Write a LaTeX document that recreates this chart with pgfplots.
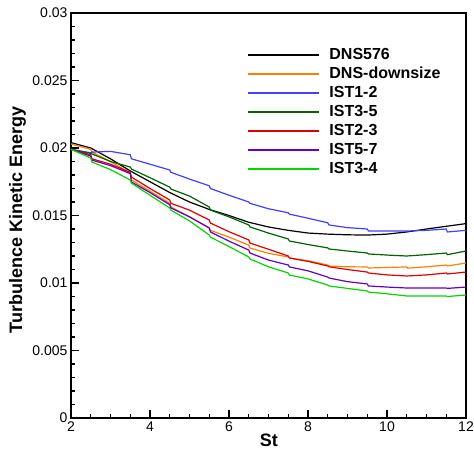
\documentclass[border=0pt]{standalone}
\usepackage{fontspec}
\setmainfont{Liberation Sans}
\usepackage{pgfplots}
\pgfplotsset{compat=1.18}
\definecolor{cOrange}{RGB}{255,128,0}
\definecolor{cBlue}{RGB}{64,64,255}
\definecolor{cDGreen}{RGB}{0,100,0}
\definecolor{cRed}{RGB}{225,0,0}
\definecolor{cPurple}{RGB}{100,0,200}
\definecolor{cGreen}{RGB}{0,215,0}
\begin{document}
\begin{tikzpicture}
\useasboundingbox (-71pt,-32pt) rectangle (403pt,418pt);
\begin{axis}[
  scale only axis, width=395pt, height=405pt,
  xmin=2, xmax=12, ymin=0, ymax=0.03,
  xtick={2,4,...,12}, ytick={0,0.005,...,0.03},
  minor x tick num=3, minor y tick num=4,
  xtick pos=left, ytick pos=left,
  tick align=inside,
  major tick length=8pt, minor tick length=4pt,
  every tick/.style={black, line width=1.2pt},
  axis line style={line width=2pt},
  /pgf/number format/assume math mode=true,
  scaled y ticks=false,
  yticklabel style={/pgf/number format/fixed, /pgf/number format/precision=3, font=\fontsize{14}{16}\selectfont},
  xticklabel style={font=\fontsize{14}{16}\selectfont},
  xlabel={\textbf{St}}, ylabel={\textbf{Turbulence Kinetic Energy}},
  xlabel style={font=\fontsize{18}{20}\selectfont, at={(axis description cs:0.501,-0.054)}, anchor=center},
  ylabel style={font=\fontsize{18}{20}\selectfont, at={(axis description cs:-0.1354,0.489)}, anchor=center},
  legend style={draw=none, fill=none, at={(axis description cs:0.438,0.925)}, anchor=north west,
    font=\bfseries\fontsize{16}{19}\selectfont, row sep=0pt,
    nodes={inner ysep=2pt, text height=12pt, text depth=3pt},
    /tikz/every odd column/.append style={column sep=8pt}},
  legend cell align=left,
  legend image code/.code={\draw[#1] (0pt,0pt) -- (71pt,0pt);},
  every axis plot/.append style={line width=1.2pt},
]
% DNS576
\addplot[black] coordinates {(2,0.0204) (2.5,0.0200) (3,0.0192) (3.5,0.0183) (4,0.0175) (4.5,0.0167) (5,0.0160) (5.5,0.01545) (6,0.0150) (6.5,0.0145) (7,0.01415) (7.5,0.0139) (8,0.0137) (8.5,0.01362) (9,0.01357) (9.5,0.01355) (10,0.01362) (10.5,0.01378) (11,0.0140) (11.5,0.0142) (12,0.0144)};
% DNS-downsize
\addplot[cOrange] coordinates {(2,0.0203) (2.5,0.0199) (2.53,0.0197) (3,0.0190) (3.5,0.01815) (3.53,0.01763) (4,0.0168) (4.5,0.0159) (4.53,0.01563) (5,0.0149) (5.5,0.0141) (5.53,0.0139) (6,0.0134) (6.5,0.01281) (6.53,0.01259) (7,0.0122) (7.5,0.01193) (7.53,0.01185) (8,0.01165) (8.5,0.01133) (8.53,0.01126) (9,0.0112) (9.5,0.01119) (9.53,0.01111) (10,0.01115) (10.5,0.01119) (10.53,0.0111) (11,0.0112) (11.5,0.01133) (11.53,0.01126) (12,0.01148)};
% IST1-2
\addplot[cBlue] coordinates {(2,0.0199) (2.5,0.01965) (2.53,0.0197) (3,0.01975) (3.5,0.0195) (3.53,0.0192) (4,0.0188) (4.5,0.01837) (4.53,0.0182) (5,0.0177) (5.5,0.0172) (5.53,0.0170) (6,0.0165) (6.5,0.0160) (6.53,0.0159) (7,0.0155) (7.5,0.0152) (7.53,0.0151) (8,0.0148) (8.5,0.01446) (8.53,0.0143) (9,0.0141) (9.5,0.0140) (9.53,0.01385) (10,0.01385) (10.5,0.01385) (11,0.0139) (11.5,0.0140) (11.53,0.01378) (12,0.0139)};
% IST3-5
\addplot[cDGreen] coordinates {(2,0.0199) (2.5,0.0196) (3,0.0190) (3.5,0.01859) (3.53,0.01844) (4,0.0178) (4.5,0.0171) (4.53,0.01696) (5,0.01644) (5.5,0.01563) (5.53,0.0154) (6,0.0149) (6.5,0.0143) (6.53,0.01415) (7,0.0137) (7.5,0.01326) (7.53,0.01311) (8,0.01285) (8.5,0.0126) (8.53,0.01252) (9,0.01237) (9.5,0.01222) (9.53,0.01215) (10,0.01207) (10.5,0.0120) (11,0.0121) (11.5,0.01222) (11.53,0.0121) (12,0.01237)};
% IST2-3
\addplot[cRed] coordinates {(2,0.0199) (2.5,0.0195) (2.53,0.0192) (3,0.0188) (3.5,0.0182) (3.53,0.01785) (4,0.0170) (4.5,0.01615) (4.53,0.0159) (5,0.0154) (5.5,0.01467) (5.53,0.01444) (6,0.0138) (6.5,0.01319) (6.53,0.01296) (7,0.0125) (7.5,0.0120) (7.53,0.01185) (8,0.0116) (8.5,0.01126) (8.53,0.0112) (9,0.0110) (9.5,0.01081) (9.53,0.01074) (10,0.0106) (10.5,0.01052) (11,0.0106) (11.5,0.01074) (11.53,0.01067) (12,0.01081)};
% IST5-7
\addplot[cPurple] coordinates {(2,0.0199) (2.5,0.0194) (2.53,0.0191) (3,0.0187) (3.5,0.0181) (3.53,0.01748) (4,0.0167) (4.5,0.0158) (4.53,0.01556) (5,0.0149) (5.5,0.01407) (5.53,0.01378) (6,0.0131) (6.5,0.01244) (6.53,0.01222) (7,0.0117) (7.5,0.01133) (7.53,0.01119) (8,0.0109) (8.5,0.01044) (8.53,0.01037) (9,0.0101) (9.5,0.00993) (9.53,0.00978) (10,0.0097) (10.5,0.00963) (11,0.00963) (11.5,0.00963) (11.53,0.0096) (12,0.0097)};
% IST3-4
\addplot[cGreen] coordinates {(2,0.0199) (2.5,0.01926) (2.53,0.01896) (3,0.0184) (3.5,0.01763) (3.53,0.0174) (4,0.0165) (4.5,0.01556) (4.53,0.0154) (5,0.0146) (5.5,0.01356) (5.53,0.0134) (6,0.0127) (6.5,0.01193) (6.53,0.01178) (7,0.0112) (7.5,0.01074) (7.53,0.01059) (8,0.0103) (8.5,0.00985) (8.53,0.00978) (9,0.0096) (9.5,0.00941) (9.53,0.00933) (10,0.0092) (10.5,0.00904) (11,0.00904) (11.5,0.00904) (11.53,0.0090) (12,0.00911)};
\legend{DNS576,DNS-downsize,IST1-2,IST3-5,IST2-3,IST5-7,IST3-4}
\end{axis}
\end{tikzpicture}
\end{document}
